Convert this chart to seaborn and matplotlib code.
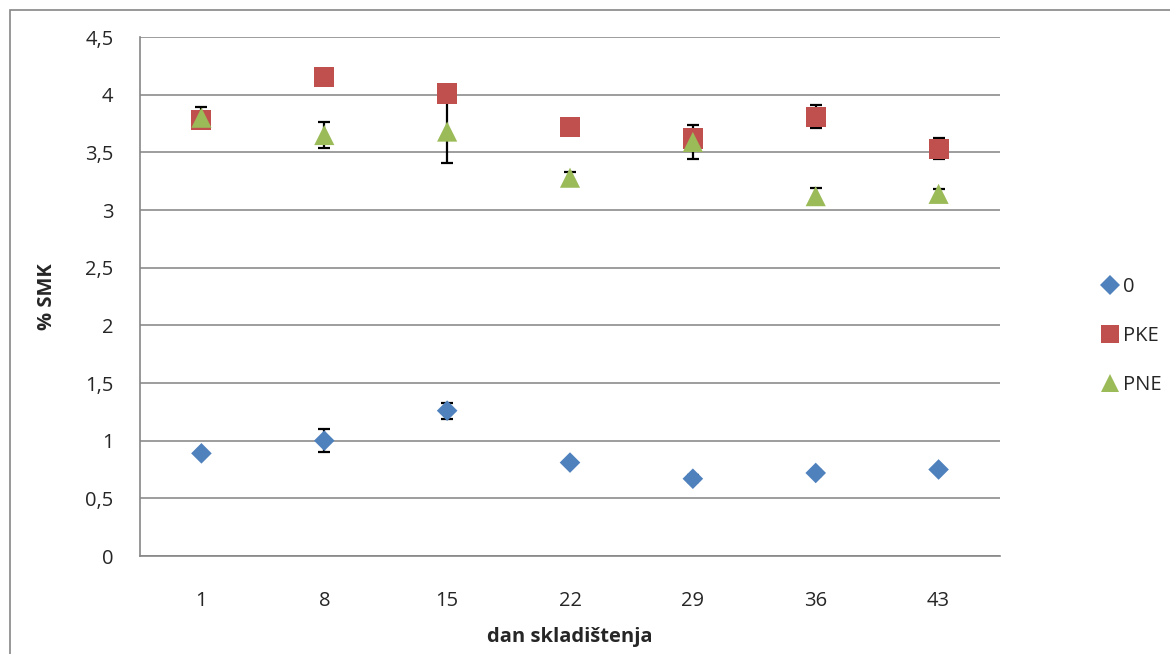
import numpy as np
import pandas as pd
import matplotlib
matplotlib.use('Agg')
import matplotlib.pyplot as plt
from matplotlib.patches import Rectangle
from matplotlib.lines import Line2D
import seaborn as sns

# podaci
days = ['1', '8', '15', '22', '29', '36', '43']
series_names = ['0', 'PKE', 'PNE']
vals_0 = [0.89, 1.00, 1.26, 0.81, 0.67, 0.72, 0.75]
err_0 = [0.01, 0.10, 0.07, 0.01, 0.03, 0.03, 0.01]
vals_pke = [3.78, 4.15, 4.01, 3.72, 3.62, 3.81, 3.53]
err_pke = [0.02, 0.01, 0.01, 0.01, 0.01, 0.10, 0.09]
vals_pne = [3.80, 3.65, 3.68, 3.28, 3.59, 3.12, 3.14]
err_pne = [0.09, 0.11, 0.27, 0.05, 0.15, 0.07, 0.04]

colors = {'0': '#4F81BD', 'PKE': '#C0504D', 'PNE': '#9BBB59'}
markers = {'0': 'D', 'PKE': 's', 'PNE': '^'}
sizes = {'0': 110, 'PKE': 210, 'PNE': 210}

rows = []
for name, v, e in zip(series_names, [vals_0, vals_pke, vals_pne], [err_0, err_pke, err_pne]):
    for i, d in enumerate(days):
        rows.append({'dan': d, 'pos': i, 'serija': name, 'smk': v[i], 'err': e[i]})
df = pd.DataFrame(rows)

sns.set_style('white')
plt.rcParams['font.family'] = ['Open Sans', 'DejaVu Sans']
fs = 14.5

fig = plt.figure(figsize=(11.7, 6.54), dpi=100)
ax = fig.add_axes([140/1170, (654-556)/654, 860/1170, 519/654])

for name in series_names:
    sub = df[df['serija'] == name]
    ax.errorbar(sub['pos'], sub['smk'], yerr=sub['err'], fmt='none', ecolor='black',
                elinewidth=1.6, capsize=4, capthick=1.6, zorder=3)
    sns.scatterplot(data=sub, x='pos', y='smk', color=colors[name], marker=markers[name],
                    s=sizes[name], edgecolor='none', ax=ax, zorder=4, legend=False)

ax.set_xlim(-0.5, len(days) - 0.5)
ax.set_ylim(0, 4.5)
ax.set_yticks(np.arange(0, 4.51, 0.5))
ax.set_yticklabels([f'{t:g}'.replace('.', ',') for t in np.arange(0, 4.51, 0.5)])
ax.set_xticks(range(len(days)))
ax.set_xticklabels(days)
ax.set_xticks(np.arange(-0.5, len(days), 1.0), minor=True)
ax.tick_params(axis='x', which='major', length=0, pad=25, labelsize=fs)
ax.tick_params(axis='x', which='minor', length=6, width=1, color='#868686', direction='out')
ax.tick_params(axis='y', length=6, width=1, color='#868686', direction='out', pad=13, labelsize=fs)
ax.yaxis.grid(True, color='#8C8C8C', linewidth=1.2)
ax.set_axisbelow(True)
for s in ['top', 'right']:
    ax.spines[s].set_visible(False)
for s in ['left', 'bottom']:
    ax.spines[s].set_color('#868686')
    ax.spines[s].set_linewidth(1.2)

ax.set_xlabel('dan skladištenja', fontsize=fs, fontweight='bold', labelpad=12)
ax.set_ylabel('% SMK', fontsize=fs, fontweight='bold', labelpad=20)

handles = [Line2D([], [], linestyle='none', marker=markers[n], color=colors[n],
                  markersize=13 if n != '0' else 10, markeredgewidth=0) for n in series_names]
fig.legend(handles, series_names, loc='center left', bbox_to_anchor=(1082/1170, (654-336)/654),
           frameon=False, fontsize=fs, labelspacing=1.45, handletextpad=0.15, handlelength=1.0)

fig.add_artist(Rectangle((10/1170, -0.1), 1.2, (654-10)/654 + 0.1, transform=fig.transFigure,
                         fill=False, edgecolor='#868686', linewidth=1.2))

fig.savefig('out.png', dpi=100)
